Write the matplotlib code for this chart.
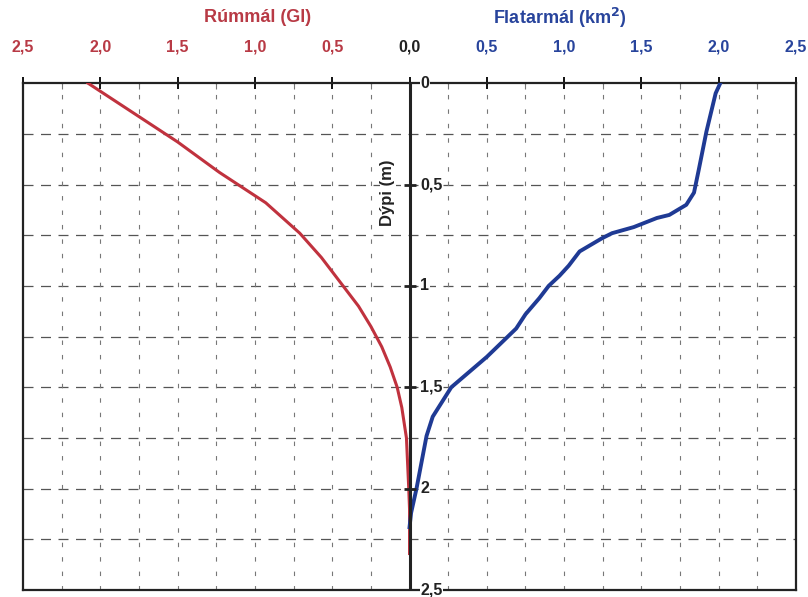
import matplotlib
matplotlib.use("Agg")
import matplotlib.pyplot as plt
import numpy as np

plt.rcParams["font.family"] = ["Liberation Sans", "DejaVu Sans"]
plt.rcParams["font.weight"] = "bold"

# volume curve (Rúmmál, Gl) vs depth (m)
vol_depth = [0.0, 0.17, 0.29, 0.44, 0.5, 0.59, 0.74, 0.86, 1.0, 1.1, 1.2, 1.3, 1.4, 1.5, 1.6, 1.75, 2.0, 2.1, 2.32]
vol_gl = [2.08, 1.74, 1.50, 1.23, 1.11, 0.93, 0.71, 0.57, 0.43, 0.33, 0.25, 0.18, 0.125, 0.08, 0.05, 0.02, 0.005, 0.0, 0.0]

# area curve (Flatarmál, km2) vs depth (m)
area_depth = [0.0, 0.05, 0.24, 0.43, 0.54, 0.60, 0.65, 0.665, 0.71, 0.74, 0.765, 0.83, 0.90, 0.95,
              1.0, 1.06, 1.14, 1.21, 1.35, 1.5, 1.645, 1.74, 2.0, 2.12, 2.19]
area_km2 = [2.01, 1.98, 1.92, 1.87, 1.84, 1.79, 1.68, 1.60, 1.45, 1.31, 1.245, 1.10, 1.03, 0.97,
            0.90, 0.84, 0.75, 0.69, 0.50, 0.27, 0.15, 0.11, 0.045, 0.01, 0.0]

top_ticks = [-2.5, -2.0, -1.5, -1.0, -0.5, 0.0, 0.5, 1.0, 1.5, 2.0, 2.5]
depth_ticks = [0, 0.5, 1, 1.5, 2, 2.5]
depth_labels = ["0", "0,5", "1", "1,5", "2", "2,5"]

RED = "#c0323e"
RED_TXT = "#b83a45"
BLUE = "#1f3a94"
BLUE_TXT = "#28449c"

fig = plt.figure(figsize=(8.08, 5.97), dpi=100)
ax = fig.add_axes([0.0285, 0.0117, 0.9567, 0.849])
ax.set_xlim(-2.5, 2.5)
ax.set_ylim(2.5, 0)

# grid
for d in np.arange(0.25, 2.5, 0.25):
    ax.axhline(d, color="#555555", lw=0.9, ls=(0, (8, 6)), zorder=1)
for x in np.arange(-2.25, 2.5, 0.25):
    if abs(x) < 1e-9:
        continue
    ax.axvline(x, color="#777777", lw=0.8, ls=(0, (4, 9)), zorder=1)

# curves
ax.plot(-np.array(vol_gl), vol_depth, color=RED, lw=2.2, zorder=3)
ax.plot(area_km2, area_depth, color=BLUE, lw=2.8, zorder=3)

# center depth axis
ax.axvline(0, color="#222222", lw=2.2, zorder=4)
ax.plot([0] * len(depth_ticks[1:-1]), depth_ticks[1:-1], marker="_", ls="none",
        color="#222222", ms=9, mew=2, zorder=4)
for d, lab in zip(depth_ticks, depth_labels):
    ax.text(0.07, d, lab, ha="left", va="center", fontsize=11.5, fontweight="bold",
            color="#222222", zorder=5,
            bbox=dict(facecolor="white", edgecolor="none", pad=0.5))
ax.text(-0.14, 0.54, "Dýpi (m)", rotation=90, ha="center", va="center",
        fontsize=12, fontweight="bold", color="#222222", zorder=5,
        bbox=dict(facecolor="white", edgecolor="none", pad=0.5))

# top axis
ax.yaxis.set_visible(False)
ax.xaxis.tick_top()
ax.set_xticks(top_ticks)
ax.set_xticks(np.arange(-2.25, 2.5, 0.5), minor=True)
ax.set_xticklabels([("%.1f" % abs(t)).replace(".", ",") for t in top_ticks],
                   fontsize=11.5, fontweight="bold")
ax.tick_params(axis="x", which="major", direction="inout", length=9, width=1.3, pad=16)
ax.tick_params(axis="x", which="minor", direction="in", length=4, width=0.8, color="#777777")
for t, lab in zip(top_ticks, ax.get_xticklabels()):
    if t < 0:
        lab.set_color(RED_TXT)
    elif t > 0:
        lab.set_color(BLUE_TXT)
    else:
        lab.set_color("#222222")

for s in ax.spines.values():
    s.set_color("#222222")
    s.set_linewidth(1.6)

fig.text(258 / 808, 1 - 18 / 597, "Rúmmál (Gl)", ha="center", va="center",
         fontsize=13, fontweight="bold", color=RED_TXT)
fig.text(560 / 808, 1 - 18 / 597, "Flatarmál (km$^\\mathbf{2}$)", ha="center", va="center",
         fontsize=13, fontweight="bold", color=BLUE_TXT)

fig.savefig("out.png", dpi=100, facecolor="white")
